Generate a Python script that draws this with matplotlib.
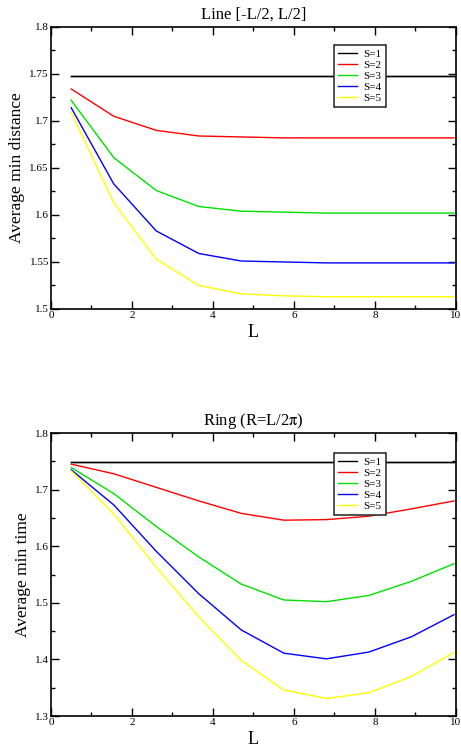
import matplotlib
matplotlib.use("Agg")
import matplotlib.pyplot as plt
from matplotlib.ticker import MultipleLocator, FormatStrFormatter

plt.rcParams["font.family"] = ["Liberation Serif", "DejaVu Serif"]
plt.rcParams["mathtext.fontset"] = "stix"

L = [0.5, 1.55, 2.6, 3.65, 4.7, 5.75, 6.8, 7.85, 8.9, 9.95]
labels = ["S=1", "S=2", "S=3", "S=4", "S=5"]
colors = ["black", "red", "#00e000", "blue", "yellow"]

# Line [-L/2, L/2]
line_s1 = [1.748] * 10
line_s2 = [1.734, 1.705, 1.690, 1.684, 1.683, 1.682, 1.682, 1.682, 1.682, 1.682]
line_s3 = [1.722, 1.661, 1.626, 1.609, 1.604, 1.603, 1.602, 1.602, 1.602, 1.602]
line_s4 = [1.714, 1.633, 1.583, 1.559, 1.551, 1.550, 1.549, 1.549, 1.549, 1.549]
line_s5 = [1.709, 1.613, 1.553, 1.525, 1.516, 1.514, 1.513, 1.513, 1.513, 1.513]

# Ring (R=L/2pi)
ring_s1 = [1.748] * 10
ring_s2 = [1.745, 1.728, 1.704, 1.680, 1.658, 1.646, 1.647, 1.653, 1.666, 1.680]
ring_s3 = [1.739, 1.693, 1.635, 1.581, 1.533, 1.505, 1.502, 1.513, 1.538, 1.569]
ring_s4 = [1.735, 1.673, 1.591, 1.516, 1.452, 1.411, 1.401, 1.413, 1.440, 1.479]
ring_s5 = [1.733, 1.657, 1.563, 1.475, 1.398, 1.346, 1.331, 1.341, 1.370, 1.412]

fig = plt.figure(figsize=(4.61, 7.51), dpi=100)
ax1 = fig.add_axes([0.1106, 0.5886, 0.8785, 0.3755])
ax2 = fig.add_axes([0.1106, 0.0466, 0.8785, 0.3768])


def style(ax, ymin, ymax, ymajor, yminor, ylabel, title, leg_y):
    ax.set_xlim(0, 10)
    ax.set_ylim(ymin, ymax)
    ax.xaxis.set_major_locator(MultipleLocator(2))
    ax.xaxis.set_minor_locator(MultipleLocator(1))
    ax.yaxis.set_major_locator(MultipleLocator(ymajor))
    ax.yaxis.set_minor_locator(MultipleLocator(yminor))
    ax.xaxis.set_major_formatter(FormatStrFormatter("%g"))
    ax.yaxis.set_major_formatter(FormatStrFormatter("%g"))
    ax.tick_params(which="both", direction="in", top=True, right=True, labelsize=8, pad=1.5)
    ax.tick_params(which="major", length=5.5, width=1)
    ax.tick_params(which="minor", length=3, width=1)
    for sp in ax.spines.values():
        sp.set_linewidth(1.2)
    ax.set_xlabel("L", fontsize=13, labelpad=2.5)
    ax.set_ylabel(ylabel, fontsize=12.5, labelpad=3)
    ax.set_title(title, fontsize=12, pad=6)
    leg = ax.legend(loc="upper left", bbox_to_anchor=(0.699, leg_y), borderaxespad=0,
                    fontsize=8, frameon=True, fancybox=False, edgecolor="#333333",
                    framealpha=1, handlelength=1.7, borderpad=0.35, labelspacing=0.12,
                    handletextpad=0.6)
    leg.get_frame().set_linewidth(1.2)


for ys, lab, c in zip([line_s1, line_s2, line_s3, line_s4, line_s5], labels, colors):
    ax1.plot(L, ys, color=c, lw=1.0, label=lab)
ax1.plot([L[0], 10], [line_s1[0], line_s1[-1]], color="black", lw=1.0)

for ys, lab, c in zip([ring_s1, ring_s2, ring_s3, ring_s4, ring_s5], labels, colors):
    ax2.plot(L, ys, color=c, lw=1.0, label=lab)
ax2.plot([L[0], 10], [ring_s1[0], ring_s1[-1]], color="black", lw=1.0)

style(ax1, 1.5, 1.8, 0.05, 0.025, "Average min distance", "Line [-L/2, L/2]", 0.936)
style(ax2, 1.3, 1.8, 0.1, 0.05, "Average min time", r"Ring (R=L/2$\mathrm{\pi}$)", 0.929)

fig.savefig("out.png", dpi=100)
